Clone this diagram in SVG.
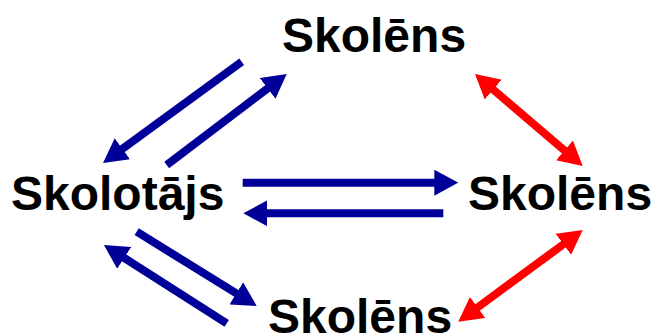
<svg xmlns="http://www.w3.org/2000/svg" width="654" height="336" viewBox="0 0 654 336">
  <style>
    .label { font-family: "Liberation Sans", Arial, sans-serif; font-weight: bold; font-size: 48px; fill: #000; }
    .blue { stroke: #000099; stroke-width: 8; fill: none; marker-end: url(#headBlue); }
    .red { stroke: #ff0000; stroke-width: 8; fill: none; marker-start: url(#headRed); marker-end: url(#headRed); }
  </style>
  <defs>
    <marker id="headBlue" markerUnits="userSpaceOnUse" viewBox="0 0 24 26" markerWidth="24" markerHeight="26" refX="2" refY="13" orient="auto-start-reverse">
      <path d="M0,0 L24,13 L0,26 z" fill="#000099"/>
    </marker>
    <marker id="headRed" markerUnits="userSpaceOnUse" viewBox="0 0 24 26" markerWidth="24" markerHeight="26" refX="2" refY="13" orient="auto-start-reverse">
      <path d="M0,0 L24,13 L0,26 z" fill="#ff0000"/>
    </marker>
  </defs>
  <rect width="654" height="336" fill="#fff"/>

  <g id="connectors">
    <line class="blue" x1="241.7" y1="61.7" x2="120.8" y2="150"/>
    <line class="blue" x1="166.7" y1="165" x2="269.2" y2="87.3"/>
    <line class="blue" x1="242.7" y1="182.7" x2="436.3" y2="182.7"/>
    <line class="blue" x1="443.3" y1="213.3" x2="265.3" y2="213.3"/>
    <line class="blue" x1="136.7" y1="231.7" x2="238" y2="294.4"/>
    <line class="blue" x1="226.7" y1="323.3" x2="122.5" y2="256.8"/>
    <line class="red" x1="491.7" y1="88.3" x2="566" y2="151.7"/>
    <line class="red" x1="565" y1="243.1" x2="476" y2="308.6"/>
  </g>

  <g id="teacher"><text class="label" x="11" y="210">Skolotājs</text></g>
  <g id="student-top"><text class="label" x="282" y="52">Skolēns</text></g>
  <g id="student-right"><text class="label" x="468" y="210">Skolēns</text></g>
  <g id="student-bottom"><text class="label" x="268" y="333">Skolēns</text></g>
</svg>
